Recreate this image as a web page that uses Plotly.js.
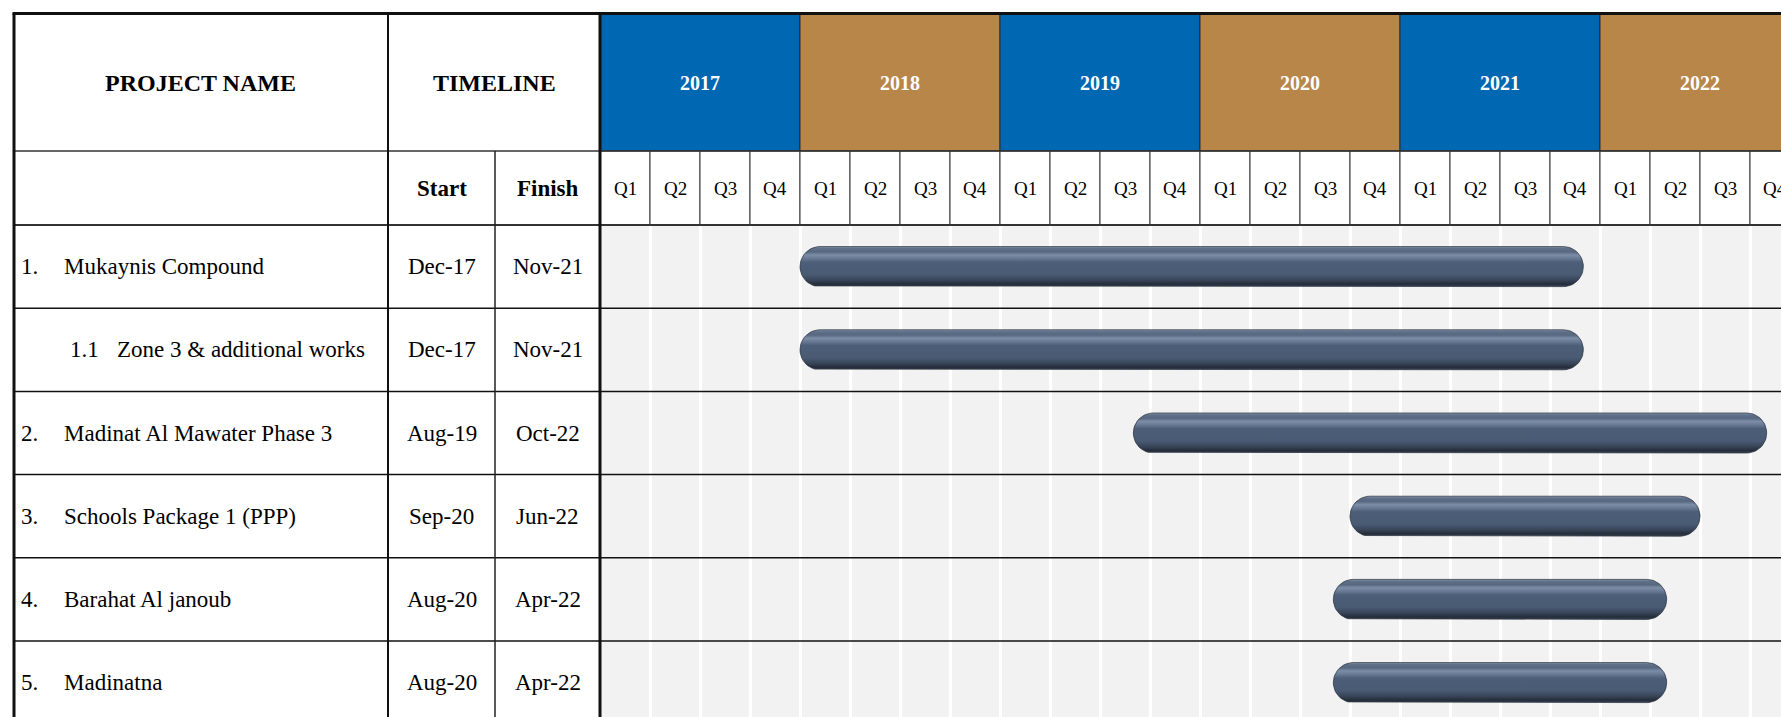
<!DOCTYPE html>
<html><head><meta charset="utf-8">
<script src="https://cdn.plot.ly/plotly-3.0.1.min.js"></script>
<style>html,body{margin:0;padding:0;background:#fff;overflow:hidden}</style>
</head><body>
<div id="chart" style="width:1781px;height:717px"></div>
<script>
// ---------------- DATA ----------------
const projectNumbers = ["1.", "1.1", "2.", "3.", "4.", "5."];
const projectNames = ["Mukaynis Compound", "Zone 3 & additional works", "Madinat Al Mawater Phase 3",
                      "Schools Package 1 (PPP)", "Barahat Al janoub", "Madinatna"];
const startDates = ["Dec-17", "Dec-17", "Aug-19", "Sep-20", "Aug-20", "Aug-20"];
const finishDates = ["Nov-21", "Nov-21", "Oct-22", "Jun-22", "Apr-22", "Apr-22"];
const years = [2017, 2018, 2019, 2020, 2021, 2022];
const quarterLabels = ["Q1", "Q2", "Q3", "Q4"];
const headerLabels = {project: "PROJECT NAME", timeline: "TIMELINE", start: "Start", finish: "Finish"};
const monthNames = ["Jan","Feb","Mar","Apr","May","Jun","Jul","Aug","Sep","Oct","Nov","Dec"];

// ---------------- LAYOUT CONSTANTS ----------------
const W = 1781, H = 717, L = 600, T = 225;
const plotW = W - L, plotH = H - T;
const monthPx = 50 / 3, rowPx = 83.2;
const xMax = plotW / monthPx;
const yMax = -0.5 + plotH / rowPx;
const FONT = "Liberation Serif, Times New Roman, serif";
const BLUE = "#0068b2", GOLD = "#b9864a";
const px = x => (x - L) / plotW;
const py = y => (H - y) / plotH;
const baseYear = years[0];

// month index (0 = Jan of first year); end of month = index + 1
function monthEnd(s) {
  const [m, y] = s.split("-");
  return (2000 + parseInt(y, 10) - baseYear) * 12 + monthNames.indexOf(m) + 1;
}

// ---------------- BARS (capsules) ----------------
const R = 20;
const rx = R / monthPx, ry = R / rowPx;
// listed top -> bottom of the bar (0 = top edge)
const gradient = [[0,'#8a98ad'],[0.05,'#5e6f88'],[0.13,'#56677f'],[0.21,'#7c8da7'],[0.29,'#6a7b95'],
                  [0.39,'#4d5e78'],[0.70,'#495a73'],[0.84,'#384559'],[0.94,'#242d39'],[1,'#3c4757']];
const traces = [];
projectNames.forEach((name, i) => {
  const s = monthEnd(startDates[i]), f = monthEnd(finishDates[i]);
  const xs = [], ys = [];
  const N = 24;
  for (let k = 0; k <= N; k++) {
    const t = -Math.PI / 2 + Math.PI * k / N;
    xs.push(f - rx + rx * Math.cos(t)); ys.push(i + ry * Math.sin(t));
  }
  for (let k = 0; k <= N; k++) {
    const t = Math.PI / 2 + Math.PI * k / N;
    xs.push(s + rx + rx * Math.cos(t)); ys.push(i + ry * Math.sin(t));
  }
  xs.push(xs[0]); ys.push(ys[0]);
  traces.push({
    type: "scatter", mode: "lines", x: xs, y: ys, fill: "toself",
    fillgradient: {type: "vertical", colorscale: gradient, start: i - ry, stop: i + ry},
    line: {color: "rgba(35,43,55,0.7)", width: 1}, hoverinfo: "skip", showlegend: false, name: name
  });
});

// ---------------- SHAPES & ANNOTATIONS ----------------
const shapes = [], annotations = [];
const yTop = 13.5, yYear = 151, yQuarter = 225;
const xLeft = 14, xCol1 = 388, xCol2 = 495;
function ann(o) {
  annotations.push(Object.assign({showarrow: false, xanchor: "center", yanchor: "middle", borderpad: 0}, o));
}

// year header cells
years.forEach((yr, i) => {
  shapes.push({type: "rect", xref: "x", yref: "paper", x0: i * 12, x1: (i + 1) * 12,
    y0: py(yYear), y1: py(yTop), fillcolor: i % 2 === 0 ? BLUE : GOLD,
    line: {color: "#2a2a2a", width: 1}, layer: "above"});
  ann({xref: "x", yref: "paper", x: i * 12 + 6, y: py(83), text: "<b>" + yr + "</b>",
    font: {family: FONT, size: 20, color: "#ffffff"}});
  quarterLabels.forEach((q, j) => {
    const qi = i * 4 + j;
    shapes.push({type: "rect", xref: "x", yref: "paper", x0: qi * 3, x1: qi * 3 + 3,
      y0: py(yQuarter), y1: py(yYear), fillcolor: "#ffffff",
      line: {color: "#333333", width: 1}, layer: "above"});
    ann({xref: "x", yref: "paper", x: qi * 3 + 1.5, y: py(189), text: q,
      font: {family: FONT, size: 19, color: "#000"}});
  });
});

// left header annotations
ann({xref: "paper", yref: "paper", x: px((xLeft + xCol1) / 2), y: py(83), text: "<b>" + headerLabels.project + "</b>",
  font: {family: FONT, size: 24, color: "#000"}});
ann({xref: "paper", yref: "paper", x: px((xCol1 + L) / 2), y: py(83), text: "<b>" + headerLabels.timeline + "</b>",
  font: {family: FONT, size: 24, color: "#000"}});
ann({xref: "paper", yref: "paper", x: px((xCol1 + xCol2) / 2), y: py(189), text: "<b>" + headerLabels.start + "</b>",
  font: {family: FONT, size: 23, color: "#000"}});
ann({xref: "paper", yref: "paper", x: px((xCol2 + L) / 2), y: py(189), text: "<b>" + headerLabels.finish + "</b>",
  font: {family: FONT, size: 23, color: "#000"}});

// row labels
projectNames.forEach((name, i) => {
  const sub = /\.\d/.test(projectNumbers[i]);
  ann({xref: "paper", yref: "y", x: px(sub ? 69 : 20), y: i, xanchor: "left",
    text: projectNumbers[i], font: {family: FONT, size: 23, color: "#000"}});
  ann({xref: "paper", yref: "y", x: px(sub ? 116 : 63), y: i, xanchor: "left",
    text: name, font: {family: FONT, size: 23, color: "#000"}});
  ann({xref: "paper", yref: "y", x: px((xCol1 + xCol2) / 2), y: i,
    text: startDates[i], font: {family: FONT, size: 23, color: "#000"}});
  ann({xref: "paper", yref: "y", x: px((xCol2 + L) / 2), y: i,
    text: finishDates[i], font: {family: FONT, size: 23, color: "#000"}});
  if (i < projectNames.length - 1) {
    shapes.push({type: "line", xref: "paper", yref: "y", x0: px(xLeft), x1: 1, y0: i + 0.5, y1: i + 0.5,
      line: {color: "#111", width: 1.5}, layer: "above"});
  }
});

// structural lines
function hline(y, w, c, x0) {
  shapes.push({type: "line", xref: "paper", yref: "paper", x0: px(x0), x1: 1.01,
    y0: py(y), y1: py(y), line: {color: c, width: w}, layer: "above"});
}
function vline(x, y0, w, c) {
  shapes.push({type: "line", xref: "paper", yref: "paper", x0: px(x), x1: px(x),
    y0: py(y0), y1: py(H + 5), line: {color: c, width: w}, layer: "above"});
}
hline(yYear, 1.5, "#333", xLeft);
hline(yQuarter, 2, "#333", xLeft);
hline(yTop, 3, "#111", xLeft - 1.5);
vline(xLeft, yTop, 3, "#111");
vline(xCol1, yTop, 2, "#111");
vline(xCol2, yYear, 1.5, "#222");
vline(L, yTop, 3, "#111");

const layout = {
  width: W, height: H,
  margin: {l: L, r: 0, t: T, b: 0, pad: 0},
  paper_bgcolor: "#ffffff", plot_bgcolor: "#f2f2f2",
  xaxis: {range: [0, xMax], showgrid: true, dtick: 3, tick0: 0, gridcolor: "#ffffff", gridwidth: 3,
          showticklabels: false, zeroline: false, showline: false, ticks: "", fixedrange: true},
  yaxis: {range: [yMax, -0.5], showgrid: false, zeroline: false, showticklabels: false, showline: false,
          ticks: "", fixedrange: true},
  shapes: shapes, annotations: annotations, showlegend: false,
  font: {family: FONT}
};
Plotly.newPlot("chart", traces, layout, {displayModeBar: false, staticPlot: true});
</script>
</body></html>
